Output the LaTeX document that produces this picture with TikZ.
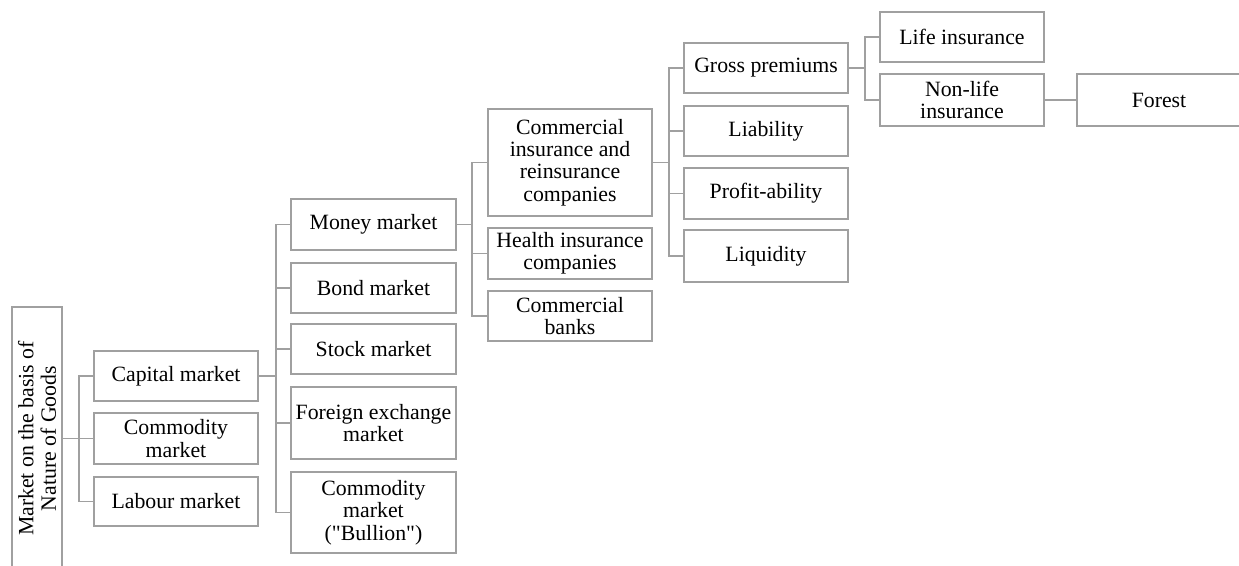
\documentclass[tikz,border=0pt]{standalone}
\usepackage{fontspec}
\setmainfont{Liberation Serif}[Ligatures=TeXOff]
\definecolor{lineg}{HTML}{A0A0A0}
\begin{document}
\begin{tikzpicture}[x=1pt,y=-1pt,
  box/.style={draw=lineg, line width=1.8pt, rectangle, inner sep=0pt, align=center,
    font=\fontsize{21.8}{22.4}\selectfont, text=black, minimum width=164pt},
  conn/.style={draw=lineg, line width=1.8pt}]
\useasboundingbox (0,0) rectangle (1239,565);
\clip (0,0) rectangle (1239,565);
% root
\node[box, rotate=90, minimum width=263pt, minimum height=50pt] (root) at (37,438.5) {Market on the basis of\\Nature of Goods};
% level 1
\node[box, minimum height=50pt] (cap) at (176,376) {Capital market};
\node[box, minimum height=51pt] (comm) at (176,438.5) {Commodity\\market};
\node[box, minimum height=49pt] (lab) at (176,501.5) {Labour market};
% level 2
\node[box, minimum width=165pt, minimum height=51pt] (money) at (373.5,224.5) {Money market};
\node[box, minimum width=165pt, minimum height=50pt] (bond) at (373.5,288) {Bond market};
\node[box, minimum width=165pt, minimum height=50pt] (stock) at (373.5,349) {Stock market};
\node[box, minimum width=165pt, minimum height=72pt] (forex) at (373.5,423) {Foreign exchange\\market};
\node[box, minimum width=165pt, minimum height=81pt] (bull) at (373.5,512.5) {Commodity\\market\\("Bullion")};
% level 3
\node[box, minimum height=107pt] (cins) at (570,162.5) {Commercial\\insurance and\\reinsurance\\companies};
\node[box, minimum height=51pt] (health) at (570,253.5) {Health insurance\\companies};
\node[box, minimum height=50pt] (banks) at (570,316) {Commercial\\banks};
% level 4
\node[box, minimum height=50pt] (gross) at (766,68) {Gross premiums};
\node[box, minimum height=50pt] (liab) at (766,131) {Liability};
\node[box, minimum height=51pt] (prof) at (766,193.5) {Profit-ability};
\node[box, minimum height=52pt] (liq) at (766,256) {Liquidity};
% level 5
\node[box, minimum height=50pt] (life) at (962,37) {Life insurance};
\node[box, minimum height=52pt] (nonlife) at (962,100) {Non-life\\insurance};
% level 6
\node[box, minimum height=52pt] (forest) at (1159,100) {Forest};
% connectors
\foreach \c in {cap,comm,lab} \draw[conn] (root.south) -- ++(16,0) |- (\c.west);
\foreach \c in {money,bond,stock,forex,bull} \draw[conn] (cap.east) -- ++(17,0) |- (\c.west);
\foreach \c in {cins,health,banks} \draw[conn] (money.east) -- ++(15,0) |- (\c.west);
\foreach \c in {gross,liab,prof,liq} \draw[conn] (cins.east) -- ++(16,0) |- (\c.west);
\foreach \c in {life,nonlife} \draw[conn] (gross.east) -- ++(16,0) |- (\c.west);
\draw[conn] (nonlife.east) -- (forest.west);
\end{tikzpicture}
\end{document}
